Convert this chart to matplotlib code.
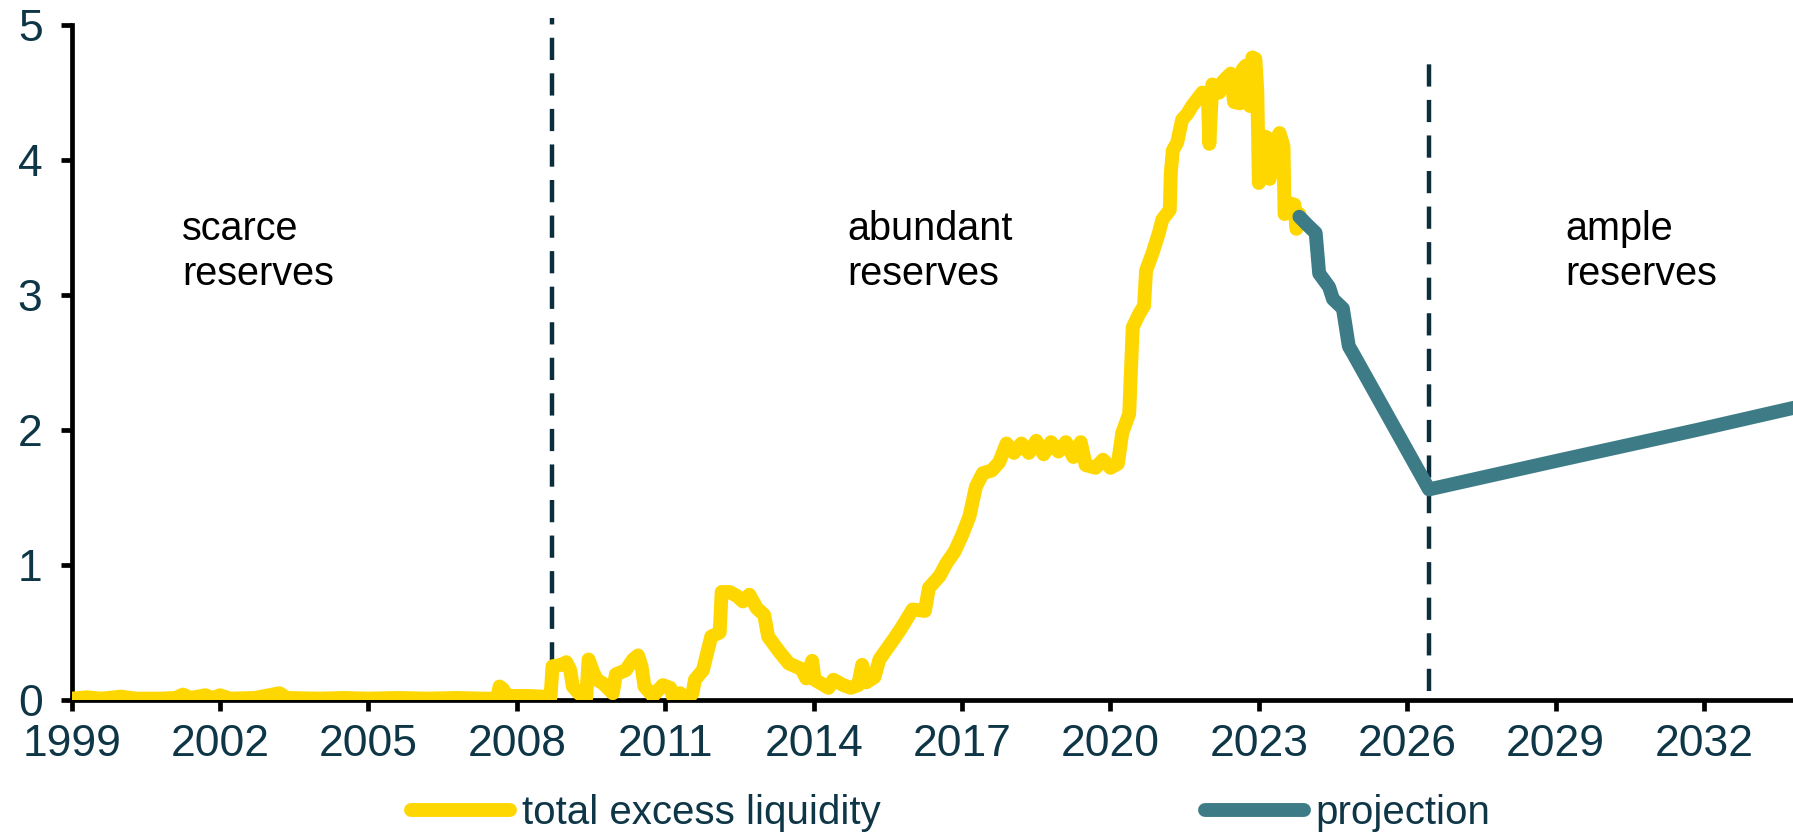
import matplotlib
matplotlib.use("Agg")
import matplotlib.pyplot as plt
from matplotlib.lines import Line2D

plt.rcParams["font.family"] = ["Liberation Sans", "DejaVu Sans"]

# total excess liquidity (trillions), decimal year
liq_years = [
    1999.0, 1999.3, 1999.6, 2000.0, 2000.3, 2000.8, 2001.1, 2001.25, 2001.4, 2001.7,
    2001.85, 2002.0, 2002.2, 2002.7, 2003.2, 2003.35, 2004.0, 2004.5, 2005.0, 2005.6,
    2006.2, 2006.8, 2007.3, 2007.6, 2007.65, 2007.72, 2007.8, 2008.2, 2008.5, 2008.68,
    2008.72, 2008.9, 2009.0, 2009.08, 2009.13, 2009.25, 2009.4, 2009.45, 2009.55, 2009.62,
    2009.75, 2009.94, 2010.0, 2010.2, 2010.35, 2010.45, 2010.52, 2010.58, 2010.75, 2010.95,
    2011.1, 2011.18, 2011.3, 2011.45, 2011.55, 2011.6, 2011.76, 2011.93, 2012.1, 2012.14,
    2012.3, 2012.45, 2012.57, 2012.7, 2012.85, 2013.0, 2013.08, 2013.3, 2013.5, 2013.75,
    2013.85, 2013.97, 2014.02, 2014.3, 2014.4, 2014.6, 2014.75, 2014.9, 2014.98, 2015.06,
    2015.23, 2015.33, 2015.6, 2015.75, 2016.0, 2016.25, 2016.33, 2016.55, 2016.68, 2016.85,
    2017.0, 2017.15, 2017.28, 2017.42, 2017.6, 2017.75, 2017.9, 2018.05, 2018.2, 2018.35,
    2018.5, 2018.65, 2018.8, 2018.95, 2019.1, 2019.25, 2019.4, 2019.5, 2019.7, 2019.85,
    2020.0, 2020.15, 2020.24, 2020.38, 2020.45, 2020.58, 2020.68, 2020.72, 2020.85, 2020.98,
    2021.05, 2021.2, 2021.22, 2021.26, 2021.35, 2021.45, 2021.55, 2021.65, 2021.86, 2021.97,
    2022.0, 2022.06, 2022.2, 2022.27, 2022.43, 2022.5, 2022.62, 2022.67, 2022.74, 2022.82,
    2022.87, 2022.93, 2022.97, 2023.0, 2023.05, 2023.15, 2023.22, 2023.3, 2023.42, 2023.5,
    2023.52, 2023.62, 2023.72, 2023.76, 2023.82,
]
liq_values = [
    0.01, 0.02, 0.01, 0.025, 0.01, 0.01, 0.015, 0.04, 0.015, 0.035,
    0.015, 0.035, 0.01, 0.015, 0.05, 0.015, 0.01, 0.015, 0.01, 0.015,
    0.01, 0.015, 0.01, 0.01, 0.10, 0.08, 0.03, 0.03, 0.025, 0.02,
    0.25, 0.26, 0.28, 0.22, 0.10, 0.05, 0.01, 0.30, 0.20, 0.15,
    0.12, 0.05, 0.19, 0.22, 0.30, 0.33, 0.25, 0.10, 0.03, 0.11,
    0.09, 0.0, 0.05, 0.0, 0.05, 0.15, 0.22, 0.47, 0.50, 0.80,
    0.80, 0.77, 0.73, 0.78, 0.68, 0.63, 0.47, 0.36, 0.27, 0.23,
    0.16, 0.29, 0.15, 0.09, 0.15, 0.11, 0.09, 0.11, 0.26, 0.13,
    0.17, 0.30, 0.44, 0.52, 0.67, 0.66, 0.83, 0.92, 1.01, 1.10,
    1.22, 1.36, 1.58, 1.68, 1.70, 1.76, 1.90, 1.83, 1.90, 1.83,
    1.92, 1.82, 1.91, 1.84, 1.91, 1.80, 1.91, 1.74, 1.72, 1.78,
    1.72, 1.75, 1.98, 2.12, 2.76, 2.86, 2.92, 3.18, 3.31, 3.46,
    3.56, 3.63, 3.90, 4.07, 4.13, 4.30, 4.34, 4.40, 4.50, 4.47,
    4.12, 4.56, 4.50, 4.58, 4.64, 4.43, 4.42, 4.67, 4.70, 4.40,
    4.76, 4.75, 4.51, 3.83, 4.18, 4.17, 3.86, 4.12, 4.20, 4.10,
    3.60, 3.68, 3.67, 3.49, 3.60,
]

# projected path
proj_years = [2023.82, 2023.98, 2024.15, 2024.22, 2024.42, 2024.5, 2024.7, 2024.82,
              2024.9, 2026.44, 2029.0, 2031.85, 2034.0]
proj_values = [3.58, 3.52, 3.46, 3.16, 3.06, 2.97, 2.90, 2.62,
               2.57, 1.56, 1.77, 2.00, 2.18]

regime_breaks = [2008.72, 2026.44]
regime_labels = [("scarce", "reserves"), ("abundant", "reserves"), ("ample", "reserves")]
regime_label_x = [2001.23, 2014.68, 2029.19]

x_ticks = list(range(1999, 2033, 3))
y_ticks = [0, 1, 2, 3, 4, 5]

YELLOW = "#FFD700"
TEAL = "#3D7C86"
INK = "#0E3646"
DASH = "#0C2E3C"

LW = 10

fig = plt.figure(figsize=(17.93, 8.35), dpi=100)
ax = fig.add_axes([0.04, 0.1617, 0.96, 0.8083])

ax.plot(liq_years, liq_values, color=YELLOW, lw=LW, zorder=4,
        solid_joinstyle="round", solid_capstyle="round")
ax.plot(proj_years, proj_values, color=TEAL, lw=LW, zorder=5,
        solid_joinstyle="round", solid_capstyle="round")

# regime boundaries
ax.plot([regime_breaks[0]] * 2, [0.0, 5.05], color=DASH, lw=3.2,
        dashes=(5.0, 3.0), zorder=3, clip_on=False)
ax.plot([regime_breaks[1]] * 2, [0.07, 4.8], color=DASH, lw=3.2,
        dashes=(5.0, 3.0), zorder=3, clip_on=False)

for (top, bottom), x in zip(regime_labels, regime_label_x):
    ax.text(x, 3.407, top, fontsize=28.5, color="black", ha="left", va="baseline")
    ax.text(x, 3.074, bottom, fontsize=28.5, color="black", ha="left", va="baseline")

ax.set_xlim(1999, 2033.8)
ax.set_ylim(0, 5)
ax.set_xticks(x_ticks)
ax.set_yticks(y_ticks)

for side in ("top", "right"):
    ax.spines[side].set_visible(False)
for side in ("left", "bottom"):
    ax.spines[side].set_linewidth(3.4)
    ax.spines[side].set_color("black")

ax.tick_params(axis="x", length=8, width=3.4, color="black", labelsize=32,
               labelcolor=INK, pad=9)
ax.tick_params(axis="y", length=8, width=3.4, color="black", labelsize=32,
               labelcolor=INK, pad=13)

handles = [
    Line2D([], [], color=YELLOW, lw=LW, solid_capstyle="round"),
    Line2D([], [], color=TEAL, lw=LW, solid_capstyle="round"),
]
leg = fig.legend(handles, ["total excess liquidity", "projection"],
                 loc="center", bbox_to_anchor=(0.5303, 0.026), ncol=2,
                 frameon=False, fontsize=29, handlelength=2.45,
                 handletextpad=0.3, columnspacing=8.05, borderpad=0)
for t in leg.get_texts():
    t.set_color(INK)

fig.savefig("out.png", dpi=100)
